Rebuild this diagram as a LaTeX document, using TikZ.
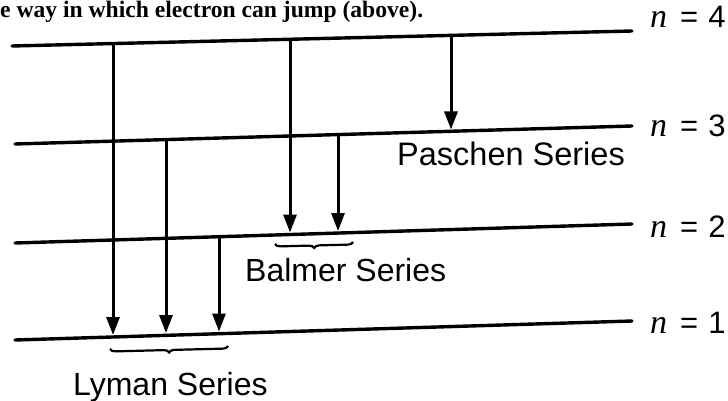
\documentclass[tikz,border=0pt]{standalone}
\usepackage{fontspec}
\setmainfont{Liberation Serif}
\setsansfont{Liberation Sans}
\newfontfamily\qfont{Liberation Serif}
\usetikzlibrary{arrows.meta,decorations.pathreplacing}
\newcommand{\qnum}[1]{{\fontsize{34}{34}\qfont\itshape n}\hspace{13pt}=\hspace{10pt}#1}
\begin{document}
\begin{tikzpicture}[x=1pt,y=-1pt,
  level/.style={line width=3.4pt,line cap=round},
  jump/.style={line width=3pt,-{Triangle[length=18pt,width=13pt]}},
  series/.style={anchor=base west,inner sep=0pt,font=\fontsize{32}{32}\sffamily\selectfont},
  qn/.style={anchor=base west,inner sep=0pt,font=\fontsize{31}{32}\sffamily\selectfont},
  grp/.style={line width=2.2pt,decorate,decoration={brace,amplitude=5pt}}]
\useasboundingbox (0,0) rectangle (728,401);

% caption line above the diagram
\node[anchor=base west,inner sep=0pt,font=\fontsize{23.6}{24}\bfseries\selectfont] (cap) at (0,18) {e way in which electron can jump (above).};

% energy levels
\coordinate (l4a) at (12,46);  \coordinate (l4b) at (632,31);
\coordinate (l3a) at (15,144); \coordinate (l3b) at (632,126);
\coordinate (l2a) at (15,243); \coordinate (l2b) at (632,224);
\coordinate (l1a) at (15,340); \coordinate (l1b) at (632,321);
\draw[level] (l4a) -- (l4b);
\draw[level] (l3a) -- (l3b);
\draw[level] (l2a) -- (l2b);
\draw[level] (l1a) -- (l1b);

% quantum number labels
\node[qn] (n4) at (650,28)  {\qnum{4}};
\node[qn] (n3) at (650,137) {\qnum{3}};
\node[qn] (n2) at (650,237) {\qnum{2}};
\node[qn] (n1) at (650,333) {\qnum{1}};

% Lyman transitions (to n = 1)
\coordinate (ly4) at (113,43.5); \coordinate (ly1a) at (113,335);
\coordinate (ly3) at (166,140);  \coordinate (ly1b) at (166,333);
\coordinate (ly2) at (219,238);  \coordinate (ly1c) at (219,331.5);
\draw[jump] (ly4) -- (ly1a);
\draw[jump] (ly3) -- (ly1b);
\draw[jump] (ly2) -- (ly1c);

% Balmer transitions (to n = 2)
\coordinate (ba4) at (290,39.5); \coordinate (ba2a) at (290,232.5);
\coordinate (ba3) at (338,135);  \coordinate (ba2b) at (338,231);
\draw[jump] (ba4) -- (ba2a);
\draw[jump] (ba3) -- (ba2b);

% Paschen transition (to n = 3)
\coordinate (pa4) at (451,35.5); \coordinate (pa3) at (451,129.5);
\draw[jump] (pa4) -- (pa3);

% series groupings
\coordinate (lyl) at (110,349); \coordinate (lyr) at (228,346);
\coordinate (bal) at (275,244); \coordinate (bar) at (353,242);
\draw[grp] (lyr) -- (lyl);
\draw[grp] (bar) -- (bal);

\node[series] (lyman)   at (73,395)  {Lyman Series};
\node[series] (balmer)  at (245,281) {Balmer Series};
\node[series,font=\fontsize{32.5}{33}\sffamily\selectfont] (paschen) at (397,165) {Paschen Series};
\end{tikzpicture}
\end{document}
